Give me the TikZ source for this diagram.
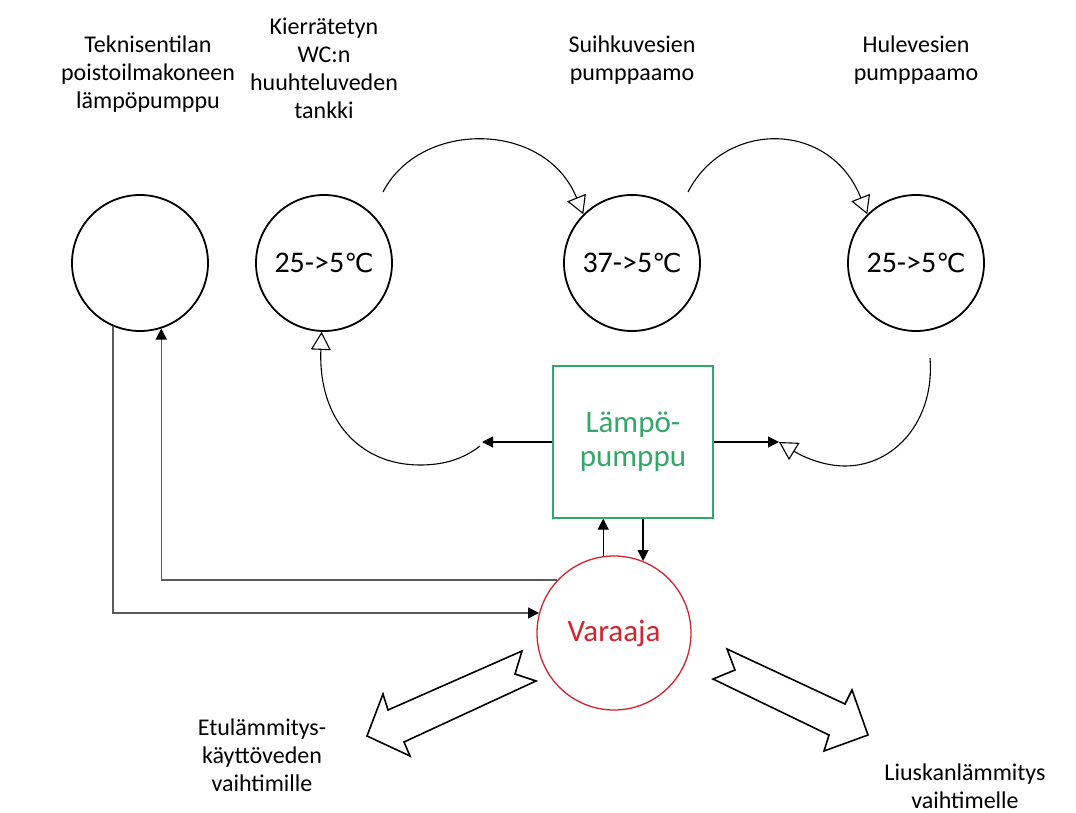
\documentclass[tikz,border=0pt]{standalone}
\usepackage{fontspec}
\setmainfont{Carlito}
\newfontfamily\symfont{DejaVu Sans}
\usetikzlibrary{arrows.meta,calc,positioning}
\definecolor{pumpgreen}{RGB}{52,166,104}
\definecolor{tankred}{RGB}{214,36,46}
\definecolor{pipegray}{RGB}{90,90,90}

\begin{document}
\begin{tikzpicture}[x=1pt,y=-1pt,
    tank/.style={circle,draw,line width=1.8pt,minimum size=136pt,inner sep=0pt,font=\fontsize{30}{34}\selectfont},
    lbl/.style={align=center,font=\fontsize{24}{28}\selectfont},
    flow/.style={line width=1.1pt,-{Triangle[open,length=18pt,width=20pt,line width=1.1pt]}},
    feed/.style={line width=1.2pt,-{Triangle[length=11pt,width=11pt,color=black]}},
    bigarrow/.style={draw,line width=1.6pt,fill=white,line join=miter}]
    \useasboundingbox[fill=white] (0,0) rectangle (1076,813);
    % lampolahteet
    \node[tank] (tech) at (140,263) {};
    \node[tank] (wc) at (324,263) {25->5{\symfont\fontsize{26}{30}\selectfont ℃}};
    \node[tank] (shower) at (632,263) {37->5{\symfont\fontsize{26}{30}\selectfont ℃}};
    \node[tank] (storm) at (916,263) {25->5{\symfont\fontsize{26}{30}\selectfont ℃}};
    \node[lbl] (techlbl) at (148,74) {Teknisentilan\\poistoilmakoneen\\lämpöpumppu};
    \node[lbl] (wclbl) at (324,68) {Kierrätetyn\\WC:n\\huuhteluveden\\tankki};
    \node[lbl] (showerlbl) at (632,60) {Suihkuvesien\\pumppaamo};
    \node[lbl] (stormlbl) at (916,60) {Hulevesien\\pumppaamo};
    % lampopumppu ja varaaja
    \node[draw=pumpgreen,line width=1.3pt,minimum width=160pt,minimum height=152pt,text=pumpgreen,align=center,
        font=\fontsize{31}{34}\selectfont] (hp) at (633,442) {Lämpö-\\pumppu};
    \node[circle,draw=tankred,line width=1.3pt,minimum size=154pt,text=tankred,
        font=\fontsize{31}{34}\selectfont] (acc) at (614,633) {Varaaja};
    \node[lbl] (prelbl) at (262,755) {Etulämmitys-\\käyttöveden\\vaihtimille};
    \node[lbl] (sliplbl) at (965,786) {Liuskanlämmitys\\vaihtimelle};
    % kierron kaaret
    \coordinate (a1s) at (383,192);
    \coordinate (a2s) at (688,192);
    \coordinate (a3s) at (480,446);
    \coordinate (a4s) at (930,358);
    \coordinate (lfree) at (482,442);
    \coordinate (rfree) at (779,442);
    \draw[flow] (a1s) .. controls (420,120) and (545,120) .. (shower.135);
    \draw[flow] (a2s) .. controls (725,120) and (830,120) .. (storm.135);
    \draw[feed] (hp.west) -- (lfree);
    \draw[feed] (hp.east) -- (rfree);
    \draw[flow] (a3s) .. controls (462,460) and (442,465) .. (420,465)
        .. controls (360,465) and (318,420) .. (wc.268);
    \draw[flow] (a4s) .. controls (935,420) and (895,466) .. (845,466)
        .. controls (825,466) and (805,458) .. (rfree);
    % varaaja <-> lampopumppu
    \draw[feed] (acc.98) -- (acc.98 |- hp.south);
    \draw[feed] (hp.south -| acc.68) -- (acc.68);
    % poistoilman lampopumppu
    \draw[feed,pipegray] (tech.247) |- (acc.165);
    \draw[feed,pipegray] (acc.137) -| (tech.288);
    % lammon kaytto
    \draw[bigarrow] (522,651) -- (388,710) -- (383,694) -- (367,736) -- (410,756) -- (404,742)
        -- (536,681) -- (515,674) -- cycle;
    \draw[bigarrow] (727,649) -- (845,704) -- (852,690) -- (868,735) -- (824,751) -- (829,735)
        -- (713,679) -- (735,670) -- cycle;
\end{tikzpicture}
\end{document}
